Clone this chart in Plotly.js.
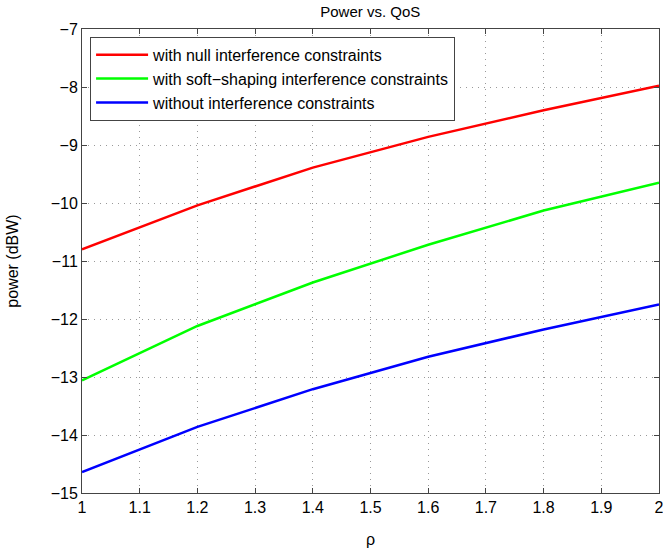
<!DOCTYPE html>
<html>
<head>
<meta charset="utf-8">
<script src="https://cdn.plot.ly/plotly-3.0.1.min.js"></script>
<style>html,body{margin:0;padding:0;background:#fff;}#chart{width:663px;height:551px;}</style>
</head>
<body>
<div id="chart"></div>
<script>
const rho = [1, 1.2, 1.4, 1.6, 1.8, 2];
const nullPower = [-10.80, -10.04, -9.39, -8.86, -8.40, -7.98];
const softPower = [-13.06, -12.12, -11.37, -10.72, -10.13, -9.65];
const nonePower = [-14.64, -13.86, -13.21, -12.65, -12.18, -11.75];
const seriesNames = ["with null interference constraints", "with soft\u2212shaping interference constraints", "without interference constraints"];
const xTicks = [1, 1.1, 1.2, 1.3, 1.4, 1.5, 1.6, 1.7, 1.8, 1.9, 2];
const yTicks = [-15, -14, -13, -12, -11, -10, -9, -8, -7];

const font = {family: "Liberation Sans, Arial, sans-serif", size: 16, color: "#000"};
const traces = [
  {x: rho, y: nullPower, name: seriesNames[0], mode: "lines", line: {color: "#ff0000", width: 2.5}},
  {x: rho, y: softPower, name: seriesNames[1], mode: "lines", line: {color: "#00ff00", width: 2.5}},
  {x: rho, y: nonePower, name: seriesNames[2], mode: "lines", line: {color: "#0000ff", width: 2.5}}
];
const axisCommon = {
  showline: true, linecolor: "#444", linewidth: 1, mirror: "ticks",
  ticks: "inside", ticklen: 5, tickcolor: "#444",
  showgrid: true, gridcolor: "#999", griddash: "1px,5px", gridwidth: 1,
  zeroline: false, tickfont: font, ticklabeloverflow: "allow"
};
const layout = {
  width: 663, height: 551,
  margin: {l: 82, r: 4, t: 29, b: 58},
  paper_bgcolor: "#fff", plot_bgcolor: "#fff",
  font: font,
  title: {text: "Power vs. QoS", font: {family: font.family, size: 15, color: "#000"}, x: 0.5585, xanchor: "center", y: 0.978, yanchor: "middle"},
  xaxis: Object.assign({}, axisCommon, {range: [1, 2], tickvals: xTicks, ticktext: xTicks.map(String),
    title: {text: "\u03c1", font: font, standoff: 18}}),
  yaxis: Object.assign({}, axisCommon, {range: [-15, -7], tickvals: yTicks,
    title: {text: "power (dBW)", font: font, standoff: 28}}),
  showlegend: true,
  legend: {x: 0.014, y: 0.983, xanchor: "left", yanchor: "top", bgcolor: "#fff",
    bordercolor: "#444", borderwidth: 1, font: font, itemwidth: 52, tracegroupgap: 0}
};
Plotly.newPlot("chart", traces, layout, {displayModeBar: false, staticPlot: true});
</script>
</body>
</html>
